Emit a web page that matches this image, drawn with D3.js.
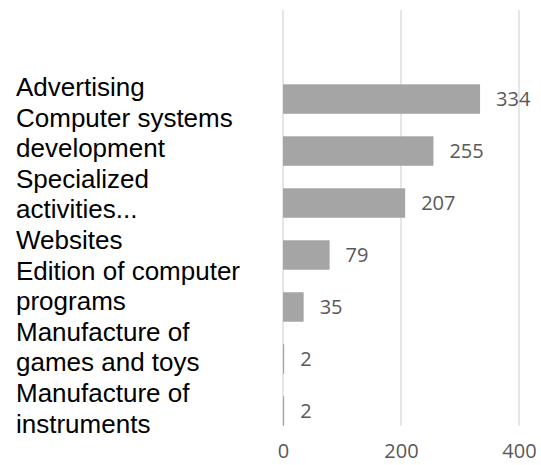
<!DOCTYPE html>
<html>
<head>
<meta charset="utf-8">
<script src="https://cdn.jsdelivr.net/npm/d3@7"></script>
<style>
  html, body { margin: 0; padding: 0; background: #fff; }
  svg { display: block; }
</style>
</head>
<body>
<div id="chart"></div>
<script>
// chart data
var categories = [
  'Advertising',
  'Computer systems development',
  'Specialized activities...',
  'Websites',
  'Edition of computer programs',
  'Manufacture of games and toys',
  'Manufacture of instruments'
];
var values = [334, 255, 207, 79, 35, 2, 2];
var xTicks = [0, 200, 400];

var width = 541;
var height = 465;

var plot = { left: 283, right: 519, gridTop: 10, top: 84.3, bottom: 425.7 };

var svg = d3.select('#chart')
  .append('svg')
  .attr('width', width)
  .attr('height', height);

var x = d3.scaleLinear().domain([0, 400]).range([plot.left, plot.right]);

var y = d3.scaleBand()
  .domain(categories)
  .range([plot.top, plot.bottom])
  .paddingInner(0.433)
  .paddingOuter(0);

var numFont = '"Open Sans", sans-serif';

// vertical gridlines
svg.append('g')
  .attr('class', 'grid')
  .selectAll('line')
  .data(xTicks).enter()
  .append('line')
  .attr('x1', function(d) { return x(d); })
  .attr('x2', function(d) { return x(d); })
  .attr('y1', plot.gridTop)
  .attr('y2', plot.bottom)
  .attr('stroke', '#d9d9d9')
  .attr('stroke-width', 1.3);

// bottom axis labels only (kept inside the window)
var xAxis = d3.axisBottom(x).tickValues(xTicks).tickSize(0).tickPadding(0);
var gx = svg.append('g')
  .attr('class', 'x axis')
  .attr('transform', 'translate(0,' + 458 + ')')
  .call(xAxis);
gx.select('.domain').remove();
gx.selectAll('text')
  .attr('font-family', numFont)
  .attr('font-size', '20px')
  .attr('fill', '#595959')
  .attr('y', 0)
  .attr('dy', 0);

// bars
svg.append('g')
  .selectAll('rect')
  .data(values).enter()
  .append('rect')
  .attr('x', x(0))
  .attr('y', function(d, i) { return y(categories[i]); })
  .attr('height', y.bandwidth())
  .attr('width', function(d) { return Math.max(1, x(d) - x(0)); })
  .attr('fill', '#a5a5a5');

// value labels
svg.append('g')
  .selectAll('text')
  .data(values).enter()
  .append('text')
  .attr('x', function(d) { return x(d) + 16; })
  .attr('y', function(d, i) { return y(categories[i]) + y.bandwidth() / 2; })
  .attr('dy', '0.36em')
  .attr('font-family', numFont)
  .attr('font-size', '20px')
  .attr('fill', '#595959')
  .text(function(d) { return d; });

// category labels: wrapped and stacked one after another
var labelFont = { family: '"Liberation Sans", Arial, sans-serif', size: 26 };
var wrapWidth = 240;
var lineHeight = 30.6;
var firstBaseline = 96;

var measure = svg.append('text')
  .attr('font-family', labelFont.family)
  .attr('font-size', labelFont.size + 'px')
  .attr('visibility', 'hidden');

var lines = [];
categories.forEach(function(cat) {
  var words = cat.split(' ');
  var line = [];
  words.forEach(function(w) {
    line.push(w);
    measure.text(line.join(' '));
    if (measure.node().getComputedTextLength() > wrapWidth && line.length > 1) {
      line.pop();
      lines.push(line.join(' '));
      line = [w];
    }
  });
  lines.push(line.join(' '));
});
measure.remove();

svg.append('g')
  .attr('class', 'y labels')
  .selectAll('text')
  .data(lines).enter()
  .append('text')
  .attr('x', 16)
  .attr('y', function(d, i) { return firstBaseline + i * lineHeight; })
  .attr('font-family', labelFont.family)
  .attr('font-size', labelFont.size + 'px')
  .attr('fill', '#000')
  .text(function(d) { return d; });
</script>
</body>
</html>
